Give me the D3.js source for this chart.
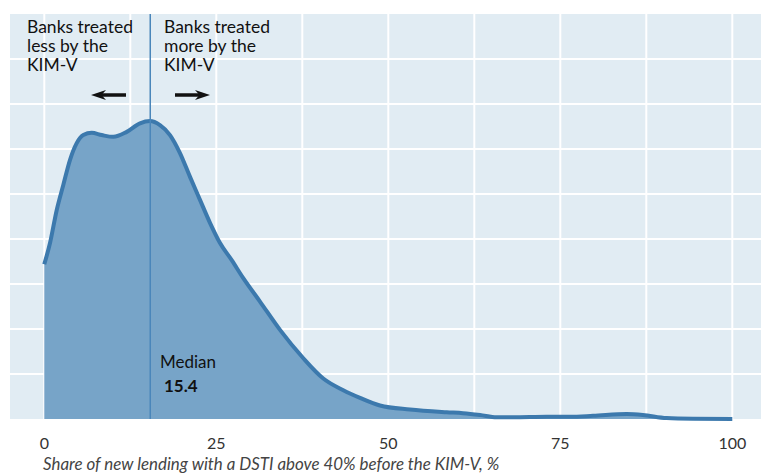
<!DOCTYPE html>
<html>
<head>
<meta charset="utf-8">
<script src="https://cdn.jsdelivr.net/npm/d3@7"></script>
<style>
  html, body { margin: 0; padding: 0; background: #ffffff; }
  svg { display: block; }
  text { font-family: Lato, "Noto Sans", sans-serif; }
</style>
</head>
<body>
<svg id="chart" width="761" height="474"></svg>
<script>
// Share of new lending with DSTI above 40% (x, %) and estimated density (arbitrary units)
const xValues = [0, 0.83, 1.8, 2.76, 3.74, 4.71, 5.67, 6.89, 8.34, 10.03, 11.98, 13.91, 15.36, 16.81, 18.27, 19.72, 21.18, 22.63, 24.08, 25.54, 27.24, 28.92, 31.35, 34.26, 37.65, 40.55, 43.46, 45.89, 48.79, 53.15, 58.49, 60.86, 63.33, 65.75, 68.12, 73.02, 76.4, 79.75, 84.65, 87.0, 90.45, 94.3, 100];
const densityValues = [3.44, 3.91, 4.64, 5.2, 5.76, 6.13, 6.31, 6.36, 6.31, 6.27, 6.38, 6.57, 6.62, 6.53, 6.31, 5.91, 5.38, 4.87, 4.36, 3.91, 3.53, 3.13, 2.61, 1.98, 1.35, 0.90, 0.64, 0.47, 0.30, 0.21, 0.15, 0.13, 0.09, 0.04, 0.04, 0.05, 0.05, 0.07, 0.11, 0.09, 0.02, 0.005, 0];
const xTicks = [0, 25, 50, 75, 100];
const xGrid = [0, 12.5, 25, 37.5, 50, 62.5, 75, 87.5, 100];
const yGrid = [1, 2, 3, 4, 5, 6, 7, 8];
const medianValue = 15.4;
const leftLabel = ["Banks treated", "less by the", "KIM-V"];
const rightLabel = ["Banks treated", "more by the", "KIM-V"];
const xTitle = "Share of new lending with a DSTI above 40% before the KIM-V, %";

const data = xValues.map((x, i) => ({ x, y: densityValues[i] }));

const svg = d3.select("#chart");
const panel = { left: 10, right: 761, top: 14, bottom: 419 };

const x = d3.scaleLinear().domain([0, 100]).range([44.3, 732.3]);
const y = d3.scaleLinear().domain([0, 9]).range([419, 14]);

// background panel
svg.append("rect")
  .attr("x", panel.left).attr("y", panel.top)
  .attr("width", panel.right - panel.left).attr("height", panel.bottom - panel.top)
  .attr("fill", "#e1ecf3");

// grid
svg.append("g").selectAll("line").data(yGrid).join("line")
  .attr("x1", panel.left).attr("x2", panel.right)
  .attr("y1", d => y(d)).attr("y2", d => y(d))
  .attr("stroke", "#ffffff").attr("stroke-width", 2);
svg.append("g").selectAll("line").data(xGrid).join("line")
  .attr("x1", d => x(d)).attr("x2", d => x(d))
  .attr("y1", panel.top).attr("y2", panel.bottom)
  .attr("stroke", "#ffffff").attr("stroke-width", 2);

// area + line
const curve = d3.curveMonotoneX;
svg.append("path").datum(data)
  .attr("d", d3.area().x(d => x(d.x)).y0(y(0)).y1(d => y(d.y)).curve(curve))
  .attr("fill", "#77a4c8");
svg.append("path").datum(data)
  .attr("d", d3.line().x(d => x(d.x)).y(d => y(d.y)).curve(curve))
  .attr("fill", "none").attr("stroke", "#3c79ad").attr("stroke-width", 4)
  .attr("stroke-linejoin", "round");

// median line
svg.append("line")
  .attr("x1", x(medianValue)).attr("x2", x(medianValue))
  .attr("y1", panel.top).attr("y2", panel.bottom)
  .attr("stroke", "#4a86ba").attr("stroke-width", 1.5);

// annotations
const ann = svg.append("g").attr("fill", "#111").style("font-size", "17.5px");
leftLabel.forEach((t, i) => ann.append("text").attr("x", 27).attr("y", 33 + i * 19).text(t));
rightLabel.forEach((t, i) => ann.append("text").attr("x", 164).attr("y", 33 + i * 19).text(t));

// arrows
function arrow(x1, x2, yy) {
  const dir = Math.sign(x2 - x1);
  const headLen = 15;
  svg.append("line")
    .attr("x1", x1).attr("x2", x2 - dir * headLen * 0.6)
    .attr("y1", yy).attr("y2", yy)
    .attr("stroke", "#111").attr("stroke-width", 3.5);
  svg.append("path")
    .attr("d", `M${x2},${yy} L${x2 - dir * headLen},${yy - 5} L${x2 - dir * headLen * 0.7},${yy} L${x2 - dir * headLen},${yy + 5} Z`)
    .attr("fill", "#111");
}
arrow(126, 91, 95);
arrow(175, 210, 95);

ann.append("text").attr("x", 160).attr("y", 368).style("font-size", "17px").text("Median");
ann.append("text").attr("x", 164).attr("y", 392).style("font-size", "17px").attr("font-weight", "bold").text(medianValue.toFixed(1));

// x axis labels
svg.append("g").selectAll("text").data(xTicks).join("text")
  .attr("x", d => x(d)).attr("y", 449)
  .attr("text-anchor", "middle")
  .attr("fill", "#333").style("font-size", "16px")
  .text(d => d);

svg.append("text")
  .attr("x", 43).attr("y", 470)
  .attr("fill", "#444").style("font-size", "16.9px").style("font-style", "italic")
  .text(xTitle);
</script>
</body>
</html>
